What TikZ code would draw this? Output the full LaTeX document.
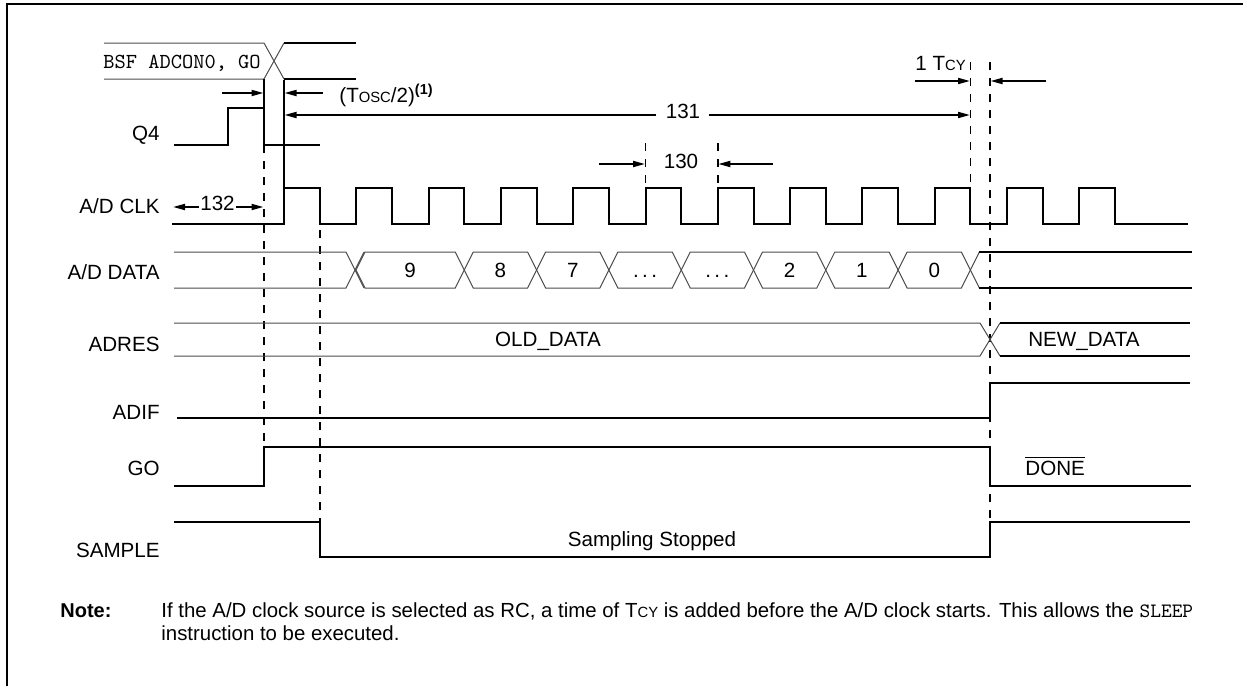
\documentclass[tikz,border=0pt]{standalone}
\usepackage{fontspec}
\setmainfont{Liberation Sans}
\usetikzlibrary{arrows.meta,calc}
\newcommand\lowcaps[1]{{\fontsize{7.4}{8}\selectfont #1}}
\tikzset{
  >={Triangle[length=6pt,width=3pt]},
  wave/.style={line width=1pt,line join=miter},
  bus/.style={line width=0.5pt,draw=black!70},
  busout/.style={line width=1pt},
  marker/.style={line width=0.9pt,dash pattern=on 4pt off 4pt},
  dim/.style={->,line width=0.9pt},
  sig/.style={anchor=base east,inner sep=0pt,font=\fontsize{10.3}{12}\selectfont},
  txt/.style={inner sep=0pt,font=\fontsize{10.3}{12}\selectfont},
  notefont/.style={anchor=base west,inner sep=0pt,font=\fontsize{10.2}{12}\selectfont},
}

\begin{document}
\begin{tikzpicture}[x=0.5pt,y=-0.5pt]
  \useasboundingbox (0,0) rectangle (1243,686);
  \draw[line width=1.25pt] (7,686) -- (7,4) -- (1243,4);
  % signal names
  \node[sig] (lq4) at (160,140) {Q4};
  \node[sig] (lclk) at (160,213) {A/D CLK};
  \node[sig] (ldata) at (160,279) {A/D DATA};
  \node[sig] (ladres) at (160,351) {ADRES};
  \node[sig] (ladif) at (160,419) {ADIF};
  \node[sig] (lgo) at (160,475) {GO};
  \node[sig] (lsample) at (160,557) {SAMPLE};
  % instruction
  \draw[bus] (104,43) -- (264,43) -- (284,79);
  \draw[bus] (104,79) -- (264,79) -- (284,43);
  \draw[busout] (284,43) -- (356,43) (284,79) -- (356,79);
  \node[anchor=base west,inner sep=0pt,font=\ttfamily\fontsize{10.7}{12}\selectfont] (bsf) at (103,68) {BSF ADCON0, GO};
  % Q4 and clock
  \draw[wave] (174,145) -- (228,145) -- (228,108) -- (264,108) -- (264,79) (264,108) -- (264,145) -- (320,145);
  \draw[wave] (284,80) -- (284,188);
  \draw[wave] (172,224) foreach \k in {0,...,11}{ -- ({284+72.3*\k},224) -- ++(0,-36) -- ++(35.7,0) -- ++(0,36)} -- (1188,224);
  \foreach \x/\a/\b in {264/145/447, 319.7/230/522, 645.5/143/188, 717.8/143/188, 970.4/62/188, 990/62/522}
    \draw[marker] (\x,\a) -- (\x,\b);
  % A/D DATA
  \draw[bus] (174,252) -- (346,252) -- (364,288);
  \draw[bus] (174,288) -- (346,288) -- (364,252);
  \foreach \a/\b/\v [count=\i] in {356/464.3/9, 464.3/536.6/8, 536.6/608.9/7, 608.9/681.2/{.\,.\,.}, 681.2/753.5/{.\,.\,.}, 753.5/825.8/2, 825.8/898.1/1, 898.1/970.4/0}{
    \draw[bus] (\a,270) -- ({\a+9},252) -- ({\b-9},252) -- (\b,270) -- ({\b-9},288) -- ({\a+9},288) -- cycle;
    \node[txt,anchor=base] (bit\i) at ({(\a+\b)/2},277) {\v};
  }
  \draw[bus] (979.4,252) -- (970.4,270) -- (979.4,288);
  \draw[busout] (979.4,252) -- (1192,252) (979.4,288) -- (1192,288);
  % ADRES
  \draw[bus] (174,323) -- (980,323) -- (1000,356);
  \draw[bus] (174,356) -- (980,356) -- (1000,323);
  \draw[busout] (1000,323) -- (1190,323) (1000,356) -- (1190,356);
  \node[txt,anchor=base] (old) at (548,346) {OLD\_DATA};
  \node[txt,anchor=base] (new) at (1084,346) {NEW\_DATA};
  % ADIF, GO, SAMPLE
  \draw[wave] (177,418) -- (990,418) -- (990,383) -- (1190,383);
  \draw[wave] (174,486) -- (264,486) -- (264,447) -- (990,447) -- (990,486) -- (1191,486);
  \node[txt,anchor=base west] (done) at (1025,475) {$\overline{\hbox{DONE}}$};
  \draw[wave] (174,522) -- (319.7,522) -- (319.7,557) -- (990,557) -- (990,522) -- (1190,522);
  \node[txt,anchor=base] (stop) at (652,546) {Sampling Stopped};
  % timing marks
  \node[txt,anchor=base west] (tosc) at (339,102) {(T\lowcaps{OSC}/2)\textsuperscript{\bfseries(1)}};
  \draw[dim] (222,93) -- (263.5,93);
  \draw[dim] (323,93) -- (284.5,93);
  \node[txt,anchor=base] (n131) at (683,118) {131};
  \draw[dim] ($(n131.base west)+(-9,-3)$) -- (284.5,115);
  \draw[dim] ($(n131.base east)+(8,-3)$) -- (970,115);
  \node[txt,anchor=base] (n130) at (681,168) {130};
  \draw[dim] (599,164) -- (645,164);
  \draw[dim] (773,164) -- (718.3,164);
  \node[txt,anchor=base] (n132) at (217.5,210) {132};
  \draw[dim] ($(n132.base west)+(-1,-3)$) -- (173,207);
  \draw[dim] ($(n132.base east)+(1,-3)$) -- (263.5,207);
  \node[txt,anchor=base west] (tcy) at (915,70) {1 T\lowcaps{CY}};
  \draw[dim] (915,81) -- (970,81);
  \draw[dim] (1046,81) -- (990.5,81);
  % note
  \node[notefont,font=\fontsize{10}{12}\selectfont\bfseries] (note) at (60,617) {Note:};
  \node[notefont] (notea) at (161,617) {If the A/D clock source is selected as RC, a time of T\lowcaps{CY} is added before the A/D clock starts. This allows the \texttt{SLEEP}};
  \node[notefont] (noteb) at (161,640) {instruction to be executed.};
\end{tikzpicture}
\end{document}
